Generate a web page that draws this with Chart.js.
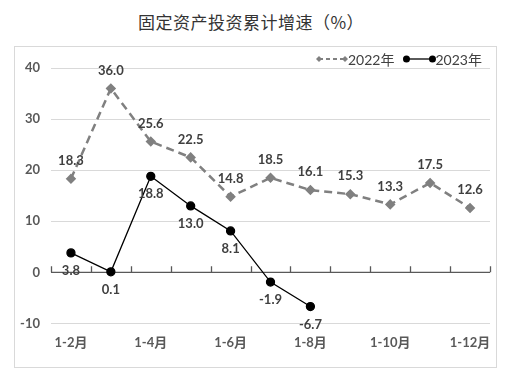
<!DOCTYPE html>
<html>
<head>
<meta charset="utf-8">
<script src="https://cdn.jsdelivr.net/npm/chart.js@4"></script>
<style>
  body { margin: 0; background: #fff; width: 508px; height: 376px; position: relative; overflow: hidden; }
  #title { position: absolute; left: 0; top: 9px; width: 502px; text-align: center;
           font: 17px "Noto Sans CJK SC", sans-serif; color: #333; letter-spacing: 0.5px; }
  #box { position: absolute; left: 14px; top: 46px; width: 481px; height: 320px; border: 1px solid #d9d9d9; }
</style>
</head>
<body>
<div id="title">固定资产投资累计增速（%）</div>
<div id="box"><canvas id="chart" width="481" height="320"></canvas></div>
<script>
const months = ['1-2月', '1-3月', '1-4月', '1-5月', '1-6月', '1-7月', '1-8月', '1-9月', '1-10月', '1-11月', '1-12月'];
const growth2022 = [18.3, 36.0, 25.6, 22.5, 14.8, 18.5, 16.1, 15.3, 13.3, 17.5, 12.6];
const growth2023 = [3.8, 0.1, 18.8, 13.0, 8.1, -1.9, -6.7];
const seriesNames = ['2022年', '2023年'];

const labelFont = 'bold 13px Lato, sans-serif';

// value labels: 2022 above, 2023 below
const valueLabels = {
  id: 'valueLabels',
  afterDatasetsDraw(chart) {
    const c = chart.ctx;
    c.save();
    c.font = labelFont;
    c.fillStyle = '#404040';
    c.textAlign = 'center';
    c.textBaseline = 'middle';
    chart.data.datasets.forEach((ds, i) => {
      const meta = chart.getDatasetMeta(i);
      meta.data.forEach((pt, j) => {
        const dy = i === 0 ? -18 : 18;
        c.fillText(ds.data[j].toFixed(1), pt.x, pt.y + dy);
      });
    });
    c.restore();
  }
};

// category axis crossing at zero, with tick marks
const zeroAxis = {
  id: 'zeroAxis',
  beforeDatasetsDraw(chart) {
    const c = chart.ctx;
    const area = chart.chartArea;
    const y0 = chart.scales.y.getPixelForValue(0);
    const step = (area.right - area.left) / months.length;
    c.save();
    c.strokeStyle = '#595959';
    c.lineWidth = 1.3;
    c.beginPath();
    c.moveTo(area.left, y0);
    c.lineTo(area.right, y0);
    for (let i = 0; i <= months.length; i++) {
      const x = Math.round(area.left + step * i) + 0.5;
      c.moveTo(x, y0);
      c.lineTo(x, y0 - 6);
    }
    c.stroke();
    c.restore();
  }
};

// Excel-style legend: line with markers at both ends
const lineLegend = {
  id: 'lineLegend',
  afterDraw(chart) {
    const c = chart.ctx;
    c.save();
    c.font = '14px Lato, "Noto Sans CJK SC", sans-serif';
    c.textBaseline = 'middle';
    const y = 12;
    let x = 304;
    chart.data.datasets.forEach((ds, i) => {
      c.strokeStyle = ds.borderColor;
      c.fillStyle = ds.borderColor;
      c.lineWidth = i === 0 ? 2 : 1.3;
      c.setLineDash(i === 0 ? [4, 3] : []);
      c.beginPath();
      c.moveTo(x, y);
      c.lineTo(x + 26, y);
      c.stroke();
      c.setLineDash([]);
      [x, x + 26].forEach(px => {
        c.beginPath();
        if (i === 0) {
          c.moveTo(px, y - 3); c.lineTo(px + 3, y); c.lineTo(px, y + 3); c.lineTo(px - 3, y);
        } else {
          c.arc(px, y, 3.5, 0, Math.PI * 2);
        }
        c.fill();
      });
      c.fillStyle = '#404040';
      c.fillText(seriesNames[i], x + 29, y + 1);
      x += 29 + c.measureText(seriesNames[i]).width + 12;
    });
    c.restore();
  }
};

new Chart(document.getElementById('chart'), {
  type: 'line',
  data: {
    labels: months,
    datasets: [{
      label: seriesNames[0],
      data: growth2022,
      borderColor: '#808080',
      backgroundColor: '#808080',
      borderWidth: 2.5,
      borderDash: [8, 5],
      pointStyle: 'rectRot',
      pointRadius: 3.5,
      pointHoverRadius: 3.5
    }, {
      label: seriesNames[1],
      data: growth2023,
      borderColor: '#000000',
      backgroundColor: '#000000',
      borderWidth: 1.3,
      pointStyle: 'circle',
      pointRadius: 4,
      pointHoverRadius: 4
    }]
  },
  options: {
    responsive: false,
    animation: false,
    layout: { padding: { top: 21, right: 4, left: 0, bottom: 12 } },
    plugins: {
      legend: { display: false },
      title: { display: false },
      tooltip: { enabled: false }
    },
    scales: {
      x: {
        offset: true,
        grid: { display: false },
        border: { display: false },
        ticks: {
          autoSkip: false,
          maxRotation: 0,
          padding: 4,
          color: '#595959',
          font: { family: 'Lato, "Noto Sans CJK SC", sans-serif', size: 13, weight: 'bold' },
          callback: (v, i) => (i % 2 === 0 ? months[i] : '')
        },
        afterFit(scale) { scale.paddingLeft = 0; scale.paddingRight = 0; }
      },
      y: {
        min: -10,
        max: 40,
        grid: { color: '#d9d9d9', drawTicks: false },
        border: { display: false },
        ticks: {
          stepSize: 10,
          padding: 11,
          color: '#595959',
          font: { family: 'Lato, sans-serif', size: 13, weight: 'bold' }
        },
        afterFit(scale) { scale.width = 36; }
      }
    }
  },
  plugins: [zeroAxis, valueLabels, lineLegend]
});
</script>
</body>
</html>
